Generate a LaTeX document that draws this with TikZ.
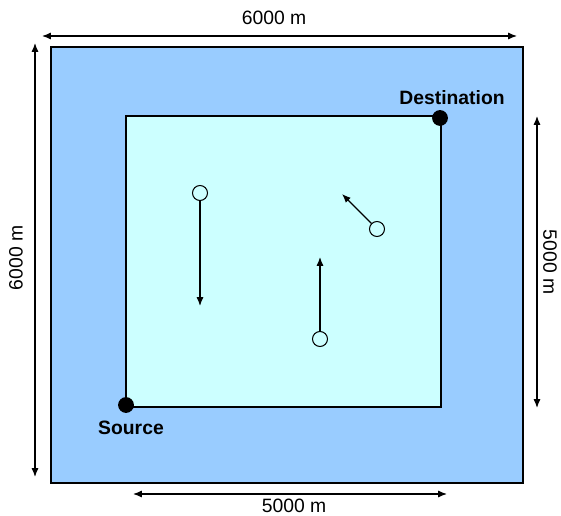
\documentclass[tikz,border=0pt]{standalone}
\usepackage{fontspec}
\setmainfont{Liberation Sans}
\usetikzlibrary{arrows.meta, positioning}
\definecolor{fieldblue}{RGB}{153, 204, 255}
\definecolor{pathcyan}{RGB}{204, 255, 255}

\begin{document}
\begin{tikzpicture}[
  x=0.02cm, y=-0.02cm,
  dimarrow/.style={{Latex[length=5pt,width=4pt]}-{Latex[length=5pt,width=4pt]}, line width=0.7pt},
  movearrow/.style={-{Latex[length=5pt,width=4pt]}, line width=0.7pt},
  endpoint/.style={circle, fill=black, inner sep=0pt, minimum size=15pt*0.6},
  mobile/.style={circle, draw, line width=0.6pt, fill=pathcyan, inner sep=0pt, minimum size=0.3cm},
  dimlabel/.style={font=\fontsize{11}{13}\selectfont},
  ptlabel/.style={font=\fontsize{11}{13}\selectfont\bfseries}
]
  \useasboundingbox (0,0) rectangle (561,516);

  % simulation area and path area
  \draw[fill=fieldblue, line width=0.7pt] (51,47) rectangle (523,483);
  \draw[fill=pathcyan, line width=0.7pt] (126,116) rectangle (441,407);

  % source and destination
  \node[endpoint] (src) at (126,405) {};
  \node[endpoint] (dst) at (440,118) {};
  \node[ptlabel] (srclbl) at (131,428) {Source};
  \node[ptlabel] (dstlbl) at (452,98) {Destination};

  % mobile nodes
  \node[mobile] (m1) at (200,193) {};
  \node[mobile] (m2) at (320,339) {};
  \node[mobile] (m3) at (377,229) {};
  \coordinate (m1to) at (200,306);
  \coordinate (m2to) at (320,257);
  \coordinate (m3to) at (342,194);
  \draw[movearrow] (m1) -- (m1to);
  \draw[movearrow] (m2) -- (m2to);
  \draw[movearrow] (m3) -- (m3to);

  % dimensions
  \coordinate (topL) at (42,36);
  \coordinate (topR) at (517,36);
  \coordinate (leftT) at (35,43);
  \coordinate (leftB) at (35,477);
  \coordinate (rightT) at (537,116);
  \coordinate (rightB) at (537,408);
  \coordinate (botL) at (133,494);
  \coordinate (botR) at (447,494);
  \draw[dimarrow] (topL) -- (topR);
  \draw[dimarrow] (leftT) -- (leftB);
  \draw[dimarrow] (rightT) -- (rightB);
  \draw[dimarrow] (botL) -- (botR);
  \node[dimlabel] (toplbl) at (274,18) {6000 m};
  \node[dimlabel, rotate=90] (leftlbl) at (16,258) {6000 m};
  \node[dimlabel, rotate=-90] (rightlbl) at (550,262) {5000 m};
  \node[dimlabel] (botlbl) at (294,506) {5000 m};
\end{tikzpicture}
\end{document}
